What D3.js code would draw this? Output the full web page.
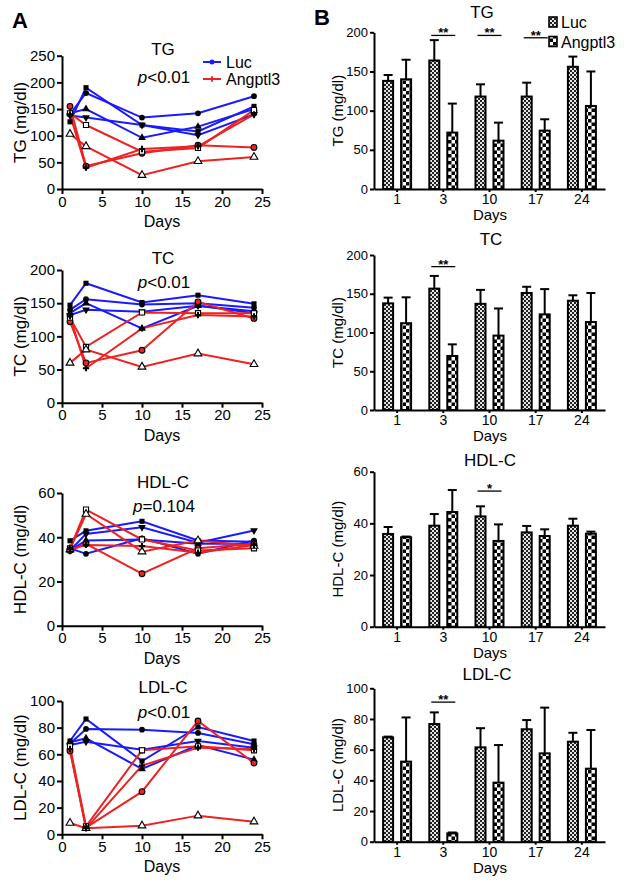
<!DOCTYPE html>
<html><head><meta charset="utf-8">
<script src="https://cdn.jsdelivr.net/npm/d3@7"></script>
<style>
body{margin:0;background:#fff;}
text{font-family:"Liberation Sans",Arial,Helvetica,sans-serif;}
</style></head>
<body>
<script>
// ---------------- DATA ----------------
const days = [1, 3, 10, 17, 24];
const dayLabels = ["1", "3", "10", "17", "24"];
const xTicksA = [0, 5, 10, 15, 20, 25];
const groups = ["Luc", "Angptl3"];

// Panel A: individual animals (values at days 1,3,10,17,24)
const lucShapes = ["circle", "square", "triangle", "triangleDown"];
const angShapes = ["circle", "square", "triangle", "cross"];

const tgLuc = [[140,180,134,142,174],[126,190,120,108,155],[142,150,96,117,150],[138,134,120,101,140]];
const tgAng = [[155,43,67,82,78],[142,120,70,77,148],[103,80,26,52,60],[140,40,75,80,140]];
const tcLuc = [[140,156,148,150,143],[147,180,151,162,149],[135,150,112,146,138],[132,140,137,146,135]];
const tcAng = [[122,60,79,152,127],[128,84,136,135,135],[60,80,54,74,58],[130,52,112,132,130]];
const hdlLuc = [[35,32.5,39.5,32.5,38.5],[38.4,42.9,47.2,38.5,38],[34,38.5,39,37,37],[34,41.5,44.5,37.5,43]];
const hdlAng = [[34,37,23.5,35,37],[35,52.5,39,34,35],[34.5,50.5,33.5,38.5,36],[34.5,36.5,36,33,36.5]];
const ldlLuc = [[68,79,78.5,76,67.5],[70,86.5,55,80.5,70],[69,72,49,67,56],[67,69.5,63.5,70,65]];
const ldlAng = [[62.5,5,32,85,53.5],[66,6,63,66,63],[8.5,4.5,6.5,14,9.5],[64,4.5,51.5,65,64]];

const tgTicksA = [0,50,100,150,200,250];
const tcTicksA = [0,50,100,150,200];
const hdlTicksA = [0,20,40,60];
const ldlTicksA = [0,20,40,60,80,100];

// Panel B: means and error (upper bar)
const tgLucMean = [138,164,118,118,156],   tgLucErr = [7.5,26,15.6,17.7,13];
const tgAngMean = [140,72,61.7,74.5,106],  tgAngErr = [25,37,23,14.5,44];
const tcLucMean = [137.6,156.6,137,151,141], tcLucErr = [7.4,16.4,18,8,7];
const tcAngMean = [112,69.7,96,123.4,113.5], tcAngErr = [33.4,15,35,32.6,37.5];
const hdlLucMean = [35.9,39.1,42.7,36.5,39.1], hdlLucErr = [2.7,4.5,3.9,2.5,2.7];
const hdlAngMean = [34.6,44.4,33.2,35.1,36],   hdlAngErr = [0.3,8.5,6.4,2.6,0.8];
const ldlLucMean = [68,76.7,61.5,73.3,65.2],   ldlLucErr = [0.5,7.6,12.5,6,5.8];
const ldlAngMean = [52.2,5.4,38.5,57.6,47.6],  ldlAngErr = [28.8,0.6,24.5,29.8,25.2];

const tgTicksB = [0,50,100,150,200];
const tcTicksB = [0,50,100,150,200];
const hdlTicksB = [0,20,40,60];
const ldlTicksB = [0,20,40,60,80,100];

// significance marks: day, label, bracket level (data units)
const tgSig = [{day:"3",label:"**",level:196},{day:"10",label:"**",level:196},{day:"17",label:"**",level:193}];
const tcSig = [{day:"3",label:"**",level:185}];
const hdlSig = [{day:"10",label:"*",level:52.5}];
const ldlSig = [{day:"3",label:"**",level:91}];

// ---------------- DRAW ----------------
const BLUE = "#1a1aff", RED = "#ee2222";
const svg = d3.select("body").append("svg").attr("width",624).attr("height",886);
const defs = svg.append("defs");
// Luc: fine checker
const p1 = defs.append("pattern").attr("id","patLuc").attr("patternUnits","userSpaceOnUse").attr("width",4).attr("height",4);
p1.append("rect").attr("width",4).attr("height",4).attr("fill","#e6e6e6");
p1.append("rect").attr("width",2).attr("height",2).attr("fill","#222");
p1.append("rect").attr("x",2).attr("y",2).attr("width",2).attr("height",2).attr("fill","#222");
// Angptl3: coarse checker
const p2 = defs.append("pattern").attr("id","patAng").attr("patternUnits","userSpaceOnUse").attr("width",7).attr("height",7);
p2.append("rect").attr("width",7).attr("height",7).attr("fill","#fff");
p2.append("rect").attr("width",3.5).attr("height",3.5).attr("fill","#000");
p2.append("rect").attr("x",3.5).attr("y",3.5).attr("width",3.5).attr("height",3.5).attr("fill","#000");

function styleAxis(g, fs){
  g.selectAll(".domain").attr("stroke","#000").attr("stroke-width",2);
  g.selectAll(".tick line").attr("stroke","#000").attr("stroke-width",2);
  g.selectAll(".tick text").attr("font-size",fs).attr("fill","#000")
    .attr("font-family","'Liberation Sans',Arial,sans-serif");
}
function symbolPath(shape, size){
  const map = {circle:d3.symbolCircle, square:d3.symbolSquare, triangle:d3.symbolTriangle,
               triangleDown:d3.symbolTriangle, cross:d3.symbolCross};
  return d3.symbol().type(map[shape]).size(size)();
}

// Panel letters
svg.append("text").attr("x",12).attr("y",28).attr("font-size",22).attr("font-weight","bold").text("A");
svg.append("text").attr("x",314).attr("y",25).attr("font-size",22).attr("font-weight","bold").text("B");

const xA = d3.scaleLinear().domain([0,25]).range([62,262]);
const aPanels = [
  {title:"TG", pIt:"p", pRest:"<0.01", ylabel:"TG (mg/dl)", ticks:tgTicksA, max:250, luc:tgLuc, ang:tgAng, top:55.7, bottom:189, titleY:55, pY:83, legend:true},
  {title:"TC", pIt:"p", pRest:"<0.01", ylabel:"TC (mg/dl)", ticks:tcTicksA, max:200, luc:tcLuc, ang:tcAng, top:270, bottom:402.7, titleY:264, pY:288},
  {title:"HDL-C", pIt:"p", pRest:"=0.104", ylabel:"HDL-C (mg/dl)", ticks:hdlTicksA, max:60, luc:hdlLuc, ang:hdlAng, top:493, bottom:625.7, titleY:488, pY:512},
  {title:"LDL-C", pIt:"p", pRest:"<0.01", ylabel:"LDL-C (mg/dl)", ticks:ldlTicksA, max:100, luc:ldlLuc, ang:ldlAng, top:701, bottom:834.3, titleY:693, pY:718}
];

aPanels.forEach(cfg=>{
  const y = d3.scaleLinear().domain([0,cfg.max]).range([cfg.bottom,cfg.top]);
  const g = svg.append("g");
  const line = d3.line().x((d,i)=>xA(days[i])).y(d=>y(d));
  cfg.luc.forEach(s=>g.append("path").attr("d",line(s)).attr("fill","none").attr("stroke",BLUE).attr("stroke-width",2));
  cfg.ang.forEach(s=>g.append("path").attr("d",line(s)).attr("fill","none").attr("stroke",RED).attr("stroke-width",2));
  cfg.luc.forEach((s,k)=>{
    s.forEach((v,i)=>{
      g.append("path").attr("d",symbolPath(lucShapes[k],26))
        .attr("transform",`translate(${xA(days[i])},${y(v)})${lucShapes[k]==="triangleDown"?" rotate(180)":""}`)
        .attr("fill","#000");
    });
  });
  cfg.ang.forEach((s,k)=>{
    s.forEach((v,i)=>{
      const sh = angShapes[k];
      g.append("path").attr("d",symbolPath(sh, sh==="cross"?22:26))
        .attr("transform",`translate(${xA(days[i])},${y(v)})`)
        .attr("fill", sh==="cross" ? "#000" : (sh==="circle" ? RED : "#fff"))
        .attr("stroke", sh==="cross" ? "none" : "#000").attr("stroke-width",1.1);
    });
  });
  const ya = g.append("g").attr("transform","translate(62,0)")
    .call(d3.axisLeft(y).tickValues(cfg.ticks).tickSize(5).tickSizeOuter(0).tickPadding(2));
  styleAxis(ya, 15);
  const xa = g.append("g").attr("transform",`translate(0,${cfg.bottom})`)
    .call(d3.axisBottom(xA).tickValues(xTicksA).tickSize(5).tickSizeOuter(0).tickPadding(2));
  styleAxis(xa, 15);
  g.append("text").attr("x",162).attr("y",cfg.bottom+38).attr("text-anchor","middle").attr("font-size",16).text("Days");
  g.append("text").attr("transform",`translate(26,${(cfg.top+cfg.bottom)/2}) rotate(-90)`)
    .attr("text-anchor","middle").attr("font-size",17).text(cfg.ylabel);
  g.append("text").attr("x",163).attr("y",cfg.titleY).attr("text-anchor","middle").attr("font-size",17).text(cfg.title);
  const pt = g.append("text").attr("x",164).attr("y",cfg.pY).attr("text-anchor","middle").attr("font-size",17);
  pt.append("tspan").attr("font-style","italic").text(cfg.pIt);
  pt.append("tspan").text(cfg.pRest);
  if(cfg.legend){
    const lg = g.append("g");
    [[groups[0],BLUE,62,"circle"],[groups[1],RED,79,"cross"]].forEach(([name,col,ly,sh])=>{
      lg.append("line").attr("x1",203).attr("x2",221).attr("y1",ly).attr("y2",ly).attr("stroke",col).attr("stroke-width",2);
      lg.append("path").attr("d",symbolPath(sh, sh==="cross"?18:20)).attr("transform",`translate(212,${ly})`).attr("fill",col);
      lg.append("text").attr("x",226).attr("y",ly+5.5).attr("font-size",16).text(name);
    });
  }
});

// Panel B
const xB = d3.scaleBand().domain(dayLabels).range([374,605]);
const xInner = d3.scaleBand().domain(groups).range([-14,14]).paddingInner(0.444);
const bPanels = [
  {title:"TG", ylabel:"TG (mg/dl)", ticks:tgTicksB, max:200, lm:tgLucMean, le:tgLucErr, am:tgAngMean, ae:tgAngErr, sig:tgSig, top:32.3, bottom:189, titleX:482, titleY:18, legend:true},
  {title:"TC", ylabel:"TC (mg/dl)", ticks:tcTicksB, max:200, lm:tcLucMean, le:tcLucErr, am:tcAngMean, ae:tcAngErr, sig:tcSig, top:255, bottom:410, titleX:491, titleY:245},
  {title:"HDL-C", ylabel:"HDL-C (mg/dl)", ticks:hdlTicksB, max:60, lm:hdlLucMean, le:hdlLucErr, am:hdlAngMean, ae:hdlAngErr, sig:hdlSig, top:471.7, bottom:626.7, titleX:490, titleY:466},
  {title:"LDL-C", ylabel:"LDL-C (mg/dl)", ticks:ldlTicksB, max:100, lm:ldlLucMean, le:ldlLucErr, am:ldlAngMean, ae:ldlAngErr, sig:ldlSig, top:688.3, bottom:841.7, titleX:487, titleY:680}
];
bPanels.forEach(cfg=>{
  const y = d3.scaleLinear().domain([0,cfg.max]).range([cfg.bottom,cfg.top]);
  const g = svg.append("g");
  const series = [[groups[0],cfg.lm,cfg.le,"url(#patLuc)"],[groups[1],cfg.am,cfg.ae,"url(#patAng)"]];
  series.forEach(([name,means,errs,fill])=>{
    dayLabels.forEach((d,i)=>{
      const cx = xB(d)+xB.bandwidth()/2 + xInner(name);
      const w = xInner.bandwidth();
      const mid = cx + w/2;
      const top = y(means[i]+errs[i]);
      g.append("line").attr("x1",mid).attr("x2",mid).attr("y1",y(means[i])).attr("y2",top).attr("stroke","#000").attr("stroke-width",2);
      g.append("line").attr("x1",mid-4.5).attr("x2",mid+4.5).attr("y1",top).attr("y2",top).attr("stroke","#000").attr("stroke-width",2);
      g.append("rect").attr("x",cx).attr("y",y(means[i])).attr("width",w).attr("height",y(0)-y(means[i]))
        .attr("fill",fill).attr("stroke","#000").attr("stroke-width",2);
    });
  });
  cfg.sig.forEach(s=>{
    const c = xB(s.day)+xB.bandwidth()/2;
    const x1 = c + xInner(groups[0]) + xInner.bandwidth()/2 - 3;
    const x2 = c + xInner(groups[1]) + xInner.bandwidth()/2 + 3;
    g.append("line").attr("x1",x1).attr("x2",x2).attr("y1",y(s.level)).attr("y2",y(s.level)).attr("stroke","#000").attr("stroke-width",1.3);
    g.append("text").attr("x",(x1+x2)/2).attr("y",y(s.level)+2).attr("text-anchor","middle").attr("font-size",13).attr("font-weight","bold").text(s.label);
  });
  const ya = g.append("g").attr("transform","translate(374,0)")
    .call(d3.axisLeft(y).tickValues(cfg.ticks).tickSize(4).tickSizeOuter(0).tickPadding(2));
  styleAxis(ya, 13);
  const xa = g.append("g").attr("transform",`translate(0,${cfg.bottom})`)
    .call(d3.axisBottom(xB).tickSize(3).tickSizeOuter(0).tickPadding(2));
  styleAxis(xa, 14);
  g.append("text").attr("x",490).attr("y",cfg.bottom+31).attr("text-anchor","middle").attr("font-size",15).text("Days");
  g.append("text").attr("transform",`translate(343,${(cfg.top+cfg.bottom)/2}) rotate(-90)`)
    .attr("text-anchor","middle").attr("font-size",15).text(cfg.ylabel);
  g.append("text").attr("x",cfg.titleX).attr("y",cfg.titleY).attr("text-anchor","middle").attr("font-size",17).text(cfg.title);
  if(cfg.legend){
    [[groups[0],"url(#patLuc)",17],[groups[1],"url(#patAng)",36.5]].forEach(([name,fill,ly])=>{
      g.append("rect").attr("x",549).attr("y",ly).attr("width",8).attr("height",10).attr("fill",fill).attr("stroke","#000").attr("stroke-width",1.6);
      g.append("text").attr("x",561).attr("y",ly+11).attr("font-size",16).text(name);
    });
  }
});
</script>
</body></html>
